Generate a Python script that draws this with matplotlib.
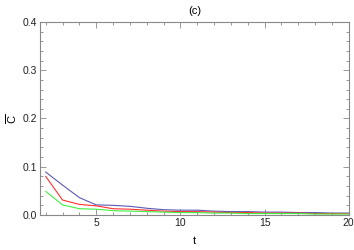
import matplotlib
matplotlib.use("Agg")
import matplotlib.pyplot as plt
from matplotlib.ticker import MultipleLocator

# values
t = list(range(2, 21))
blue = [0.089, 0.062, 0.036, 0.021, 0.020, 0.018, 0.014, 0.011, 0.010, 0.010,
        0.008, 0.007, 0.007, 0.006, 0.006, 0.005, 0.005, 0.004, 0.004]
red = [0.080, 0.031, 0.022, 0.019, 0.013, 0.012, 0.010, 0.008, 0.007, 0.007,
       0.006, 0.005, 0.005, 0.004, 0.004, 0.004, 0.003, 0.003, 0.003]
green = [0.049, 0.021, 0.013, 0.012, 0.009, 0.008, 0.007, 0.006, 0.005, 0.005,
         0.004, 0.004, 0.003, 0.003, 0.003, 0.003, 0.002, 0.002, 0.002]

plt.rcParams['font.family'] = ['Liberation Sans', 'DejaVu Sans']
plt.rcParams['mathtext.fontset'] = 'custom'
plt.rcParams['mathtext.rm'] = 'Liberation Sans'
plt.rcParams['mathtext.it'] = 'Liberation Sans'

fig = plt.figure(figsize=(3.54, 2.5), dpi=100)
ax = fig.add_axes([0.113, 0.14, 0.872, 0.772])

ax.plot(t, blue, color='#5a5ab4', lw=0.8)
ax.plot(t, red, color='#ff3030', lw=0.8)
ax.plot(t, green, color='#40f040', lw=0.8)

ax.set_xlim(1.66, 20)
ax.set_ylim(0, 0.4)
ax.xaxis.set_major_locator(MultipleLocator(5))
ax.xaxis.set_minor_locator(MultipleLocator(1))
ax.yaxis.set_major_locator(MultipleLocator(0.1))
ax.yaxis.set_minor_locator(MultipleLocator(0.02))
ax.yaxis.set_major_formatter(plt.FormatStrFormatter('%.1f'))

gray = '#888888'
for s in ax.spines.values():
    s.set_color(gray)
    s.set_linewidth(0.8)
ax.tick_params(which='both', direction='in', top=True, right=True, colors=gray,
               labelcolor='#222222', labelsize=7.5, width=0.6, pad=2)
ax.tick_params(which='major', length=4)
ax.tick_params(which='minor', length=2)

ax.set_xlabel('t', fontsize=8, labelpad=6)
ax.set_ylabel(r'$\overline{\mathrm{C}}$', fontsize=8)
ax.yaxis.set_label_coords(-0.068, 0.5)
ax.set_title('(c)', fontsize=8, pad=6)

fig.savefig('out.png', dpi=100)
